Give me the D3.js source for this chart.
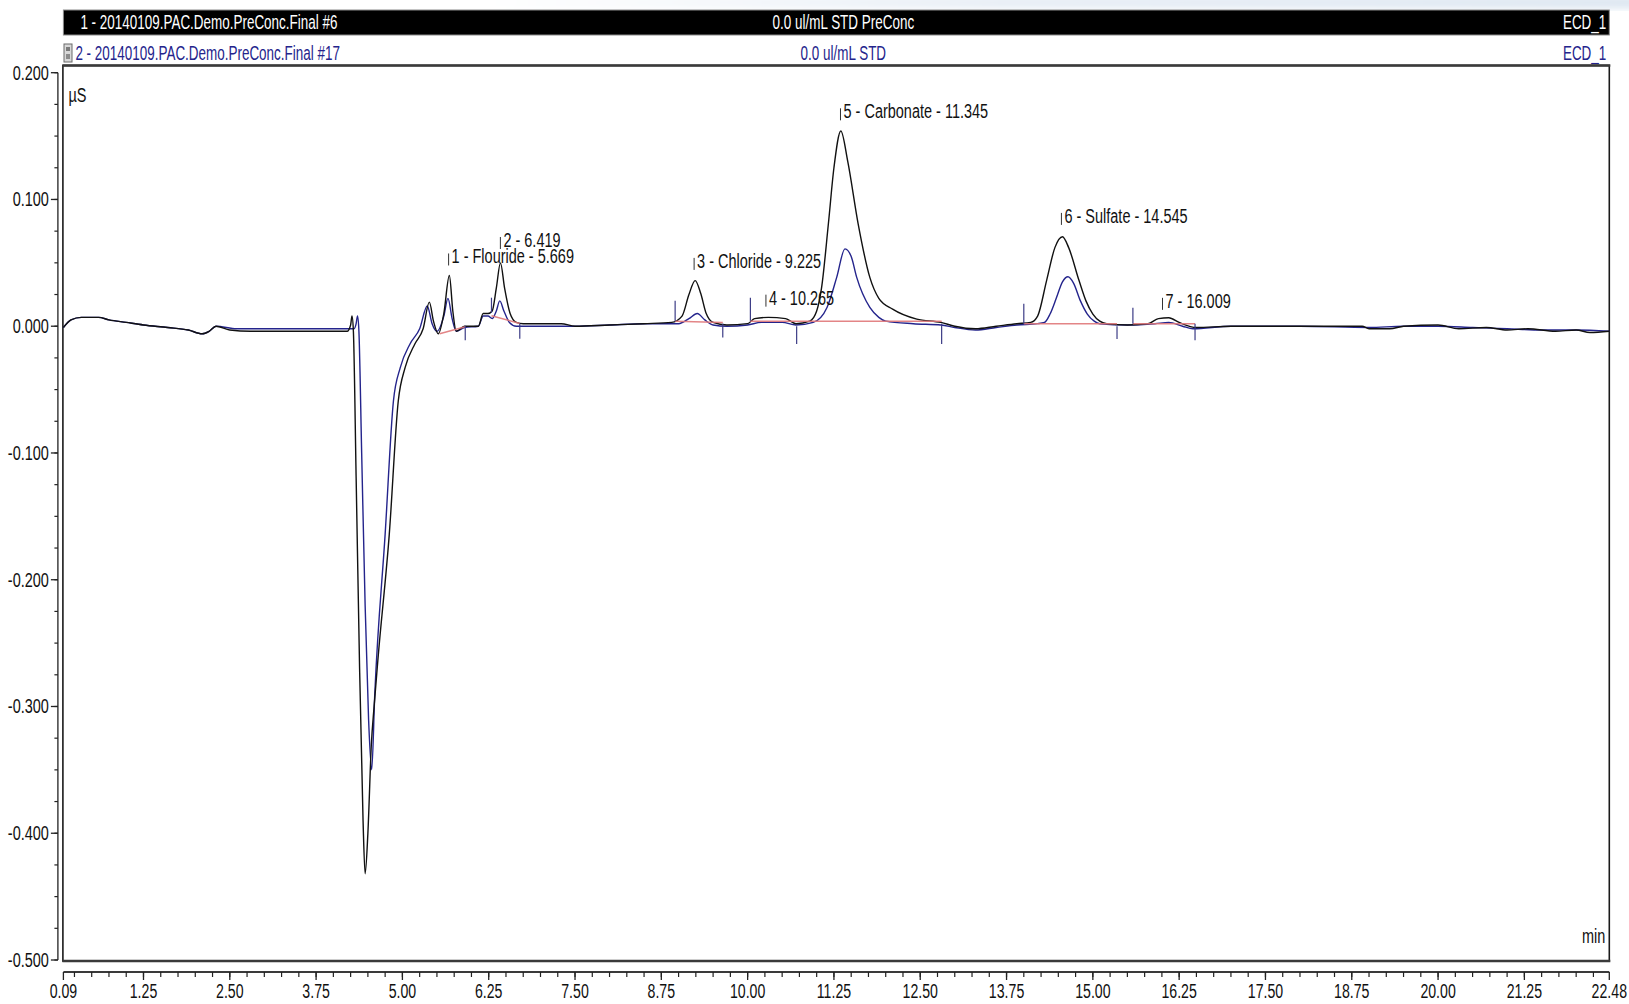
<!DOCTYPE html>
<html>
<head>
<meta charset="utf-8">
<script src="https://cdn.jsdelivr.net/npm/d3@7"></script>
<style>
  html, body { margin: 0; padding: 0; background: #ffffff; }
  svg { display: block; }
  text { font-family: "Liberation Sans", Arial, "DejaVu Sans", sans-serif; }
</style>
</head>
<body>
<svg id="chart" width="1629" height="1004"></svg>
<script>
// ---------------- data ----------------
// Run #6, 0.0 ul/mL STD PreConc  — [retention time (min), conductivity (µS)]
const run6 = [
  [0.09,-0.001],[0.2,0.005],[0.35,0.007],[0.6,0.007],[0.75,0.005],[1.0,0.003],[1.25,0.001],
  [1.6,-0.001],[1.9,-0.003],[2.1,-0.006],[2.2,-0.004],[2.3,0.000],[2.5,-0.003],[2.8,-0.004],
  [3.2,-0.004],[3.6,-0.004],[4.2,-0.004],[4.25,0.001],[4.27,0.008],[4.29,-0.004],[4.33,-0.12],
  [4.38,-0.27],[4.43,-0.39],[4.46,-0.432],[4.50,-0.40],[4.55,-0.33],[4.59,-0.30],[4.65,-0.26],
  [4.81,-0.164],[4.94,-0.059],[5.04,-0.0325],[5.18,-0.014],[5.3,-0.002],[5.39,0.019],[5.45,0.004],
  [5.52,-0.006],[5.6,0.010],[5.68,0.040],[5.73,0.012],[5.78,-0.004],[5.9,0.000],[6.1,0.000],
  [6.17,0.010],[6.24,0.010],[6.30,0.012],[6.36,0.030],[6.42,0.050],[6.48,0.030],[6.56,0.010],
  [6.65,0.003],[6.75,0.002],[7.3,0.002],[7.5,0.000],[8.0,0.001],[8.5,0.002],[8.9,0.003],
  [9.05,0.008],[9.15,0.025],[9.24,0.036],[9.32,0.026],[9.4,0.010],[9.5,0.003],[9.7,0.001],
  [10.0,0.002],[10.1,0.006],[10.3,0.007],[10.55,0.006],[10.7,0.002],[10.9,0.004],[11.0,0.012],
  [11.07,0.030],[11.17,0.081],[11.25,0.125],[11.35,0.154],[11.45,0.130],[11.6,0.081],[11.77,0.0385],
  [11.9,0.022],[12.1,0.0135],[12.45,0.0056],[12.8,0.003],[13.0,0.000],[13.3,-0.002],[13.6,0.000],
  [13.9,0.002],[14.1,0.003],[14.2,0.008],[14.33,0.036],[14.45,0.062],[14.56,0.0706],[14.65,0.062],
  [14.8,0.036],[14.9,0.020],[15.0,0.0096],[15.1,0.004],[15.2,0.002],[15.5,0.001],[15.8,0.002],
  [15.95,0.006],[16.1,0.0067],[16.25,0.003],[16.5,-0.001],[17.0,0.000],[18.0,0.000],[18.9,0.000],
  [19.0,-0.002],[19.3,-0.002],[19.5,0.000],[20.0,0.001],[20.3,-0.002],[20.7,-0.001],[21.0,-0.003],
  [21.3,-0.002],[21.7,-0.004],[22.0,-0.003],[22.2,-0.005],[22.48,-0.004]
];

// Run #17, 0.0 ul/mL STD
const run17 = [
  [0.09,-0.001],[0.2,0.005],[0.35,0.007],[0.6,0.007],[0.75,0.005],[1.0,0.003],[1.25,0.001],
  [1.6,-0.001],[1.9,-0.003],[2.1,-0.006],[2.2,-0.004],[2.3,0.000],[2.6,-0.002],[3.0,-0.002],
  [3.6,-0.002],[4.3,-0.002],[4.33,0.002],[4.35,0.008],[4.37,-0.004],[4.41,-0.10],[4.46,-0.22],
  [4.51,-0.31],[4.555,-0.35],[4.6,-0.29],[4.75,-0.164],[4.87,-0.059],[4.97,-0.0325],[5.11,-0.014],
  [5.25,-0.002],[5.36,0.016],[5.43,0.002],[5.5,-0.004],[5.6,0.008],[5.66,0.022],[5.72,0.006],
  [5.78,-0.004],[5.9,-0.001],[6.1,0.000],[6.17,0.008],[6.24,0.008],[6.30,0.006],[6.36,0.012],
  [6.41,0.020],[6.47,0.012],[6.55,0.003],[6.65,0.000],[7.5,0.000],[8.0,0.001],[8.5,0.002],
  [9.0,0.002],[9.15,0.006],[9.27,0.010],[9.38,0.005],[9.5,0.001],[9.7,0.000],[10.0,0.001],
  [10.2,0.003],[10.5,0.003],[10.7,0.001],[10.95,0.003],[11.15,0.0148],[11.29,0.0385],[11.41,0.061],
  [11.5,0.055],[11.58,0.0385],[11.77,0.0148],[11.9,0.007],[12.0,0.004],[12.4,0.002],[12.8,0.001],
  [13.0,-0.001],[13.3,-0.003],[13.6,-0.001],[13.9,0.001],[14.2,0.002],[14.3,0.003],[14.38,0.0096],
  [14.47,0.022],[14.56,0.035],[14.64,0.039],[14.72,0.034],[14.82,0.020],[14.92,0.0096],[15.02,0.004],
  [15.1,0.002],[15.5,0.001],[15.9,0.002],[16.1,0.003],[16.3,0.000],[16.45,-0.002],[17.0,0.000],
  [18.0,0.000],[19.0,-0.001],[19.5,0.000],[20.0,0.000],[20.5,-0.001],[21.0,-0.002],[21.5,-0.003],
  [22.0,-0.003],[22.48,-0.004]
];

// Identified peaks: label text, retention time, label height (µS)
const peakNames  = ["1 - Flouride - 5.669", "2 - 6.419", "3 - Chloride - 9.225", "4 - 10.265",
                    "5 - Carbonate - 11.345", "6 - Sulfate - 14.545", "7 - 16.009"];
const peakTimes  = [5.669, 6.419, 9.225, 10.265, 11.345, 14.545, 16.009];
const peakLevels = [0.0495, 0.0625, 0.046, 0.017, 0.164, 0.0815, 0.0145];

// Integration baselines: [start time, start µS, end time, end µS]
const baselines = [
  [5.54,-0.006, 5.91,-0.0004], [6.29,0.0083, 6.70,0.0022], [8.95,0.004, 9.64,0.003],
  [10.04,0.004, 12.81,0.004], [14.0,0.002, 15.35,0.002], [15.58,0.002, 16.48,0.002]
];
// Peak delimiter marks: [time, low µS, high µS]
const delimiters = [
  [5.91,-0.011,0.0004], [6.29,0.0106,0.0225], [6.70,-0.0099,0.002], [8.95,0.004,0.020],
  [9.64,-0.009,0.002], [10.04,0.0043,0.0225], [10.71,-0.014,0.000], [12.81,-0.014,0.002],
  [14.0,0.002,0.0177], [15.35,-0.010,0.000], [15.58,0.002,0.0146], [16.48,-0.011,0.002]
];

// Axis ticks
const xMajor = [0.09, 1.25, 2.50, 3.75, 5.00, 6.25, 7.50, 8.75, 10.00, 11.25, 12.50, 13.75,
                15.00, 16.25, 17.50, 18.75, 20.00, 21.25, 22.48];
const yMajor = [0.2, 0.1, 0.0, -0.1, -0.2, -0.3, -0.4, -0.5];

// Header rows
const header1 = ["1 - 20140109.PAC.Demo.PreConc.Final #6", "0.0 ul/mL STD PreConc", "ECD_1"];
const header2 = ["2 - 20140109.PAC.Demo.PreConc.Final #17", "0.0 ul/mL  STD", "ECD_1"];

// ---------------- drawing ----------------
const svg = d3.select("#chart");
const x = d3.scaleLinear().domain([0.09, 22.48]).range([63.4, 1609.3]);
const y = d3.scaleLinear().domain([-0.5, 0.2]).range([960, 72.7]);

const INK = "#111111";
const BLUE = "#24248c";
const RED = "#e0787a";
const SX = 0.69;   // horizontal squeeze of the narrow instrument font

function txt(g, px, py, str, opt = {}) {
  const size = opt.size || 21;
  return g.append("text")
    .attr("transform", `translate(${px},${py}) scale(${opt.sx || SX},1)`)
    .attr("text-anchor", opt.anchor || "start")
    .attr("font-size", size)
    .attr("fill", opt.fill || INK)
    .text(str);
}

const left = x.range()[0], right = x.range()[1];

// faint window glare above the header
const defs = svg.append("defs");
defs.append("filter").attr("id", "soft").append("feGaussianBlur").attr("stdDeviation", 3);
const glare = defs.append("linearGradient").attr("id", "glare").attr("x1", 0).attr("x2", 1);
glare.append("stop").attr("offset", 0).attr("stop-color", "#ffffff");
glare.append("stop").attr("offset", 0.45).attr("stop-color", "#e9eff6");
glare.append("stop").attr("offset", 1).attr("stop-color", "#dfe8f2");
svg.append("rect").attr("x", 480).attr("y", -4).attr("width", 1160).attr("height", 13)
  .attr("fill", "url(#glare)").attr("filter", "url(#soft)");

// header bar (run #6)
const head = svg.append("g");
head.append("rect").attr("x", left).attr("y", 10).attr("width", right - left).attr("height", 25)
  .attr("fill", "#000").attr("stroke", "#8a8a8a").attr("stroke-width", 1);
txt(head, left + 17, 29, header1[0], { fill: "#fff", size: 19.5 });
txt(head, (left + right) / 2 + 7, 29, header1[1], { fill: "#fff", size: 19.5, anchor: "middle" });
txt(head, right - 3, 29, header1[2], { fill: "#fff", size: 19.5, anchor: "end" });

// second row (run #17)
const icon = head.append("g").attr("transform", "translate(64,44)");
icon.append("rect").attr("width", 8).attr("height", 18).attr("fill", "#d8d8d8").attr("stroke", "#6a6a6a").attr("stroke-width", 1);
icon.append("rect").attr("x", 2).attr("y", 3).attr("width", 4).attr("height", 4).attr("fill", "#7a7a7a");
icon.append("rect").attr("x", 2).attr("y", 10).attr("width", 4).attr("height", 5).attr("fill", "#8c8c8c");
txt(head, left + 12, 60, header2[0], { fill: BLUE, size: 19.5 });
txt(head, (left + right) / 2 + 7, 60, header2[1], { fill: BLUE, size: 19.5, anchor: "middle" });
txt(head, right - 3, 60, header2[2], { fill: BLUE, size: 19.5, anchor: "end" });

// plot frame
const yTop = 65.5, yBot = y(-0.5) + 1;
svg.append("rect").attr("x", left - 0.5).attr("y", yTop).attr("width", right - left + 0.5)
  .attr("height", yBot - yTop).attr("fill", "none").attr("stroke", "#1a1a1a").attr("stroke-width", 1.6);
svg.append("line").attr("x1", left - 1).attr("x2", right + 1).attr("y1", yTop).attr("y2", yTop)
  .attr("stroke", "#3a3a3a").attr("stroke-width", 2.4);
svg.append("line").attr("x1", left - 1).attr("x2", right + 1).attr("y1", yBot).attr("y2", yBot)
  .attr("stroke", "#3a3a3a").attr("stroke-width", 2.4);

// y axis (separate line left of the frame)
const yAxisX = left - 5.5;
const yAx = svg.append("g");
yAx.append("line").attr("x1", yAxisX).attr("x2", yAxisX).attr("y1", y(0.2)).attr("y2", y(-0.5))
  .attr("stroke", "#222").attr("stroke-width", 1.3);
const yMinor = d3.range(-0.5, 0.2001, 0.025);
yAx.selectAll("line.minor").data(yMinor).join("line").attr("class", "minor")
  .attr("x1", yAxisX - 3.5).attr("x2", yAxisX).attr("y1", d => y(d)).attr("y2", d => y(d))
  .attr("stroke", "#222").attr("stroke-width", 1.2);
yAx.selectAll("line.major").data(yMajor).join("line").attr("class", "major")
  .attr("x1", yAxisX - 7).attr("x2", yAxisX).attr("y1", d => y(d)).attr("y2", d => y(d))
  .attr("stroke", "#222").attr("stroke-width", 1.3);
yMajor.forEach(v => txt(yAx, yAxisX - 9, y(v) + 7, d3.format(".3f")(v).replace("−", "-"), { anchor: "end" }));
txt(svg, left + 5, 102, "µS");
txt(svg, right - 4, 943, "min", { anchor: "end" });

// x axis (separate line under the frame)
const xAxisY = 972;
const xAx = svg.append("g");
xAx.append("line").attr("x1", left).attr("x2", right).attr("y1", xAxisY).attr("y2", xAxisY)
  .attr("stroke", "#3a3a3a").attr("stroke-width", 2.2);
const xMinor = d3.range(0.25, 22.48, 0.25);
xAx.selectAll("line.minor").data(xMinor).join("line").attr("class", "minor")
  .attr("x1", d => x(d)).attr("x2", d => x(d)).attr("y1", xAxisY).attr("y2", xAxisY + 5)
  .attr("stroke", "#222").attr("stroke-width", 1.2);
xAx.selectAll("line.major").data(xMajor).join("line").attr("class", "major")
  .attr("x1", d => x(d)).attr("x2", d => x(d)).attr("y1", xAxisY).attr("y2", xAxisY + 8)
  .attr("stroke", "#222").attr("stroke-width", 1.3);
xMajor.forEach(t => txt(xAx, x(t), 998, d3.format(".2f")(t), { anchor: "middle", size: 20.5 }));

// traces
const line = d3.line().x(d => x(d[0])).y(d => y(d[1])).curve(d3.curveMonotoneX);
const plot = svg.append("g");
plot.append("path").datum(run17).attr("d", line).attr("fill", "none")
  .attr("stroke", BLUE).attr("stroke-width", 1.4).attr("stroke-linejoin", "round");
plot.append("path").datum(run6).attr("d", line).attr("fill", "none")
  .attr("stroke", INK).attr("stroke-width", 1.4).attr("stroke-linejoin", "round");

// integration baselines and delimiters
plot.selectAll("line.base").data(baselines).join("line").attr("class", "base")
  .attr("x1", d => x(d[0])).attr("y1", d => y(d[1])).attr("x2", d => x(d[2])).attr("y2", d => y(d[3]))
  .attr("stroke", RED).attr("stroke-width", 1.5).attr("opacity", 0.9);
plot.selectAll("line.delim").data(delimiters).join("line").attr("class", "delim")
  .attr("x1", d => x(d[0])).attr("x2", d => x(d[0])).attr("y1", d => y(d[1])).attr("y2", d => y(d[2]))
  .attr("stroke", "#3c3c86").attr("stroke-width", 1.2);

// peak labels
peakNames.forEach((name, i) => {
  const px = x(peakTimes[i]), py = y(peakLevels[i]);
  plot.append("line").attr("x1", px).attr("x2", px).attr("y1", py - 10).attr("y2", py + 2)
    .attr("stroke", "#333").attr("stroke-width", 1);
  txt(plot, px + 3, py, name);
});
</script>
</body>
</html>
